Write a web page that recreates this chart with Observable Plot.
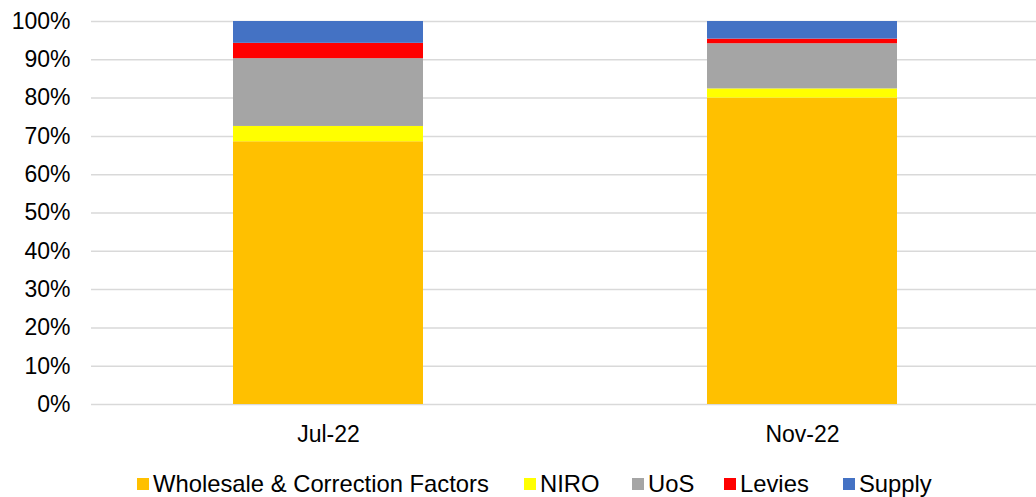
<!DOCTYPE html>
<html>
<head>
<meta charset="utf-8">
<script src="https://cdn.jsdelivr.net/npm/d3@7"></script>
<script src="https://cdn.jsdelivr.net/npm/@observablehq/plot@0.6"></script>
<style>
  html, body { margin: 0; padding: 0; background: #fff; }
  body { width: 1036px; height: 497px; overflow: hidden; font-family: "Liberation Sans", Arial, sans-serif; }
  #chart svg { display: block; }
  #legend { position: relative; height: 47px; }
  .sw { position: absolute; top: 28px; width: 12px; height: 12px; }
  .lbl { position: absolute; top: 22px; font-size: 23.8px; line-height: 23px; color: #000; white-space: nowrap; }
</style>
</head>
<body>
<div id="chart"></div>
<div id="legend"></div>
<script>
const periods = ["Jul-22", "Nov-22"];
const components = ["Wholesale & Correction Factors", "NIRO", "UoS", "Levies", "Supply"];
const wholesale = [68.6, 80.0];
const niro = [4.0, 2.4];
const uos = [17.7, 11.8];
const levies = [4.0, 1.2];
const supply = [5.7, 4.6];
const colors = ["#FFC000", "#FFFF00", "#A5A5A5", "#FF0000", "#4472C4"];
const yTicks = [0, 10, 20, 30, 40, 50, 60, 70, 80, 90, 100];

const seriesValues = [wholesale, niro, uos, levies, supply];
const data = [];
components.forEach((c, i) => periods.forEach((p, j) => data.push({period: p, component: c, value: seriesValues[i][j]})));

const chart = Plot.plot({
  width: 1036,
  height: 450,
  marginLeft: 91,
  marginRight: 0,
  marginTop: 21,
  marginBottom: 46,
  style: {fontFamily: '"Liberation Sans", Arial, sans-serif', fontSize: "23px", color: "#000", background: "#fff"},
  x: {domain: periods, range: [91, 1039], paddingInner: 0.6, paddingOuter: 0.3, label: null},
  y: {domain: [0, 100], label: null},
  color: {domain: components, range: colors},
  marks: [
    Plot.ruleY(yTicks, {stroke: "#d9d9d9", strokeWidth: 1.5}),
    Plot.barY(data, {x: "period", y: "value", fill: "component", order: null}),
    Plot.axisY(yTicks, {tickSize: 0, tickPadding: 21, tickFormat: d => d + "%", fontSize: "23px"}),
    Plot.axisX({tickSize: 0, tickPadding: 21, fontSize: "23px"})
  ]
});
document.getElementById("chart").appendChild(chart);

const swatchX = [137, 524, 632, 724, 843];
const legend = document.getElementById("legend");
components.forEach((c, i) => {
  const sw = document.createElement("div");
  sw.className = "sw";
  sw.style.left = swatchX[i] + "px";
  sw.style.background = colors[i];
  const t = document.createElement("div");
  t.className = "lbl";
  t.style.left = (swatchX[i] + 16) + "px";
  t.textContent = c;
  legend.appendChild(sw);
  legend.appendChild(t);
});
</script>
</body>
</html>
